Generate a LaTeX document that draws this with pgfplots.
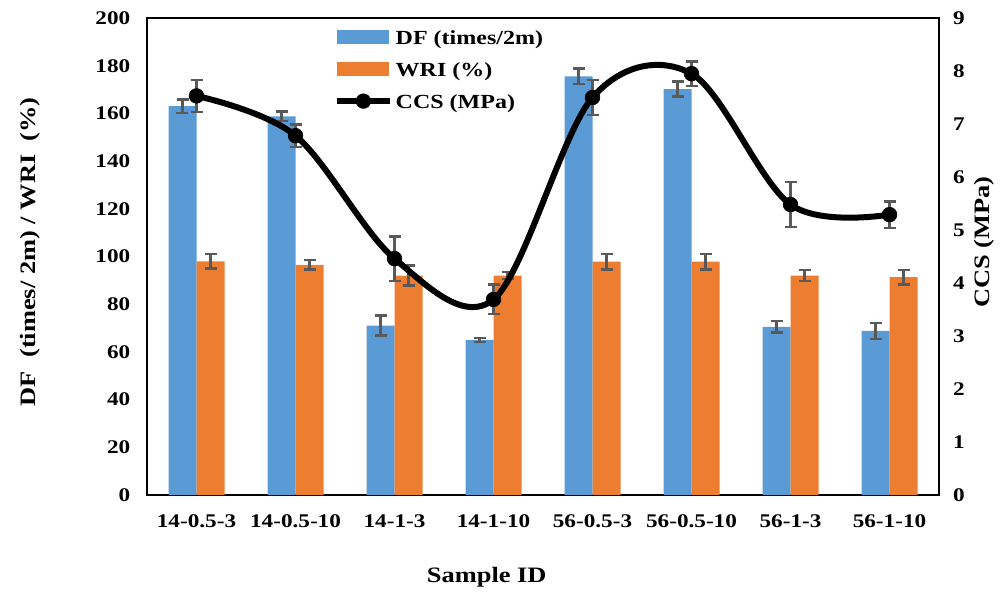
\documentclass[border=0pt]{standalone}
\usepackage{fontspec}
\setmainfont{Liberation Serif}[FakeStretch=1.2]
\usepackage{pgfplots}
\pgfplotsset{compat=1.18}
\usepackage{pgfplotstable}

\definecolor{dfblue}{HTML}{5B9BD5}
\definecolor{wriorange}{HTML}{ED7D31}
\definecolor{errgray}{HTML}{595959}

% DF (times/2m) and WRI (%) with their error bars
\pgfplotstableread{
x df dfe wri wrie
0 163 2.9 98 3.1
1 158.8 2 96.5 2
2 71 4.2 92 4.2
3 65 0.8 92 1.5
4 175.5 3.3 97.8 3.2
5 170.2 3.1 97.8 3.2
6 70.5 2.4 92 2.3
7 68.8 3.4 91.3 3.1
}\bars

% CCS (MPa)
\pgfplotstableread{
x ccs e
0 7.53 0.30
1 6.78 0.21
2 4.46 0.42
3 3.69 0.28
4 7.50 0.33
5 7.95 0.23
6 5.48 0.42
7 5.29 0.25
}\ccs

\pgfplotsset{
  common/.style={
    scale only axis, width=594pt, height=357.75pt,
    xmin=-0.5, xmax=7.5,
    major tick length=0pt,
    /pgf/number format/assume math mode=true,
    ticklabel style={font=\bfseries\fontsize{14.5}{16}\selectfont},
    label style={font=\bfseries\fontsize{16.5}{18}\selectfont},
    axis line style={line width=1.6pt, black},
  },
  errs/.style={
    error bars/.cd, y dir=both, y explicit,
    error bar style={line width=1.8pt, errgray},
    error mark options={rotate=90, line width=1.8pt, mark size=4.5pt, errgray},
    /pgfplots/.cd,
  },
}

\begin{document}
\begin{tikzpicture}
\begin{axis}[common, name=ax,
  ybar=0pt, bar width=21pt,
  ymin=0, ymax=200, ytick={0,20,...,200},
  xtick={0,...,7},
  xticklabels={14-0.5-3,14-0.5-10,14-1-3,14-1-10,56-0.5-3,56-0.5-10,56-1-3,56-1-10},
  xticklabel style={yshift=-11pt},
  yticklabel style={xshift=-9pt},
  ylabel={DF\ \ (times/ 2m) / WRI\ \ (\%)},
  ylabel style={at={(axis description cs:-0.147,0.51)}, anchor=center},
  xlabel={Sample ID},
  xlabel style={at={(axis description cs:0.429,0)}, yshift=-62pt, anchor=center},
  legend style={at={(rel axis cs:0.2304,0.985)}, anchor=north west, draw=none, fill=none,
    font=\bfseries\fontsize{15}{17}\selectfont, row sep=8pt},
  legend cell align=left,
]
\addplot[fill=dfblue, draw=none,
  legend image code/.code={\fill[dfblue] (0pt,-4pt) rectangle (39pt,6.5pt);}, errs]
  table[x=x, y=df, y error=dfe] {\bars};
\addlegendentry{DF (times/2m)}
\addplot[fill=wriorange, draw=none,
  legend image code/.code={\fill[wriorange] (0pt,-4pt) rectangle (39pt,6.5pt);}, errs]
  table[x=x, y=wri, y error=wrie] {\bars};
\addlegendentry{WRI (\%)}
\addlegendimage{legend image code/.code={
  \draw[black, line width=4.5pt] (0pt,1pt) -- (40pt,1pt);
  \fill[black] (20pt,1pt) circle (5.5pt);}}
\addlegendentry{CCS (MPa)}
\end{axis}

\begin{axis}[common,
  axis x line=none, axis y line*=right,
  ymin=0, ymax=9, ytick={0,...,9},
  yticklabel style={xshift=7pt},
  ylabel={CCS (MPa)},
  ylabel style={at={(axis description cs:1.057,0.53)}, anchor=center, rotate=0},
]
\addplot[black, line width=4.5pt, smooth, tension=0.55,
  mark=*, mark size=5.5pt, mark options={line width=0.5pt, fill=black}, errs]
  table[x=x, y=ccs, y error=e] {\ccs};
\end{axis}

\pgfresetboundingbox
\path[use as bounding box] ([xshift=-110.25pt,yshift=-74.25pt]ax.south west)
  rectangle ([xshift=51pt,yshift=13.5pt]ax.north east);
\end{tikzpicture}
\end{document}
